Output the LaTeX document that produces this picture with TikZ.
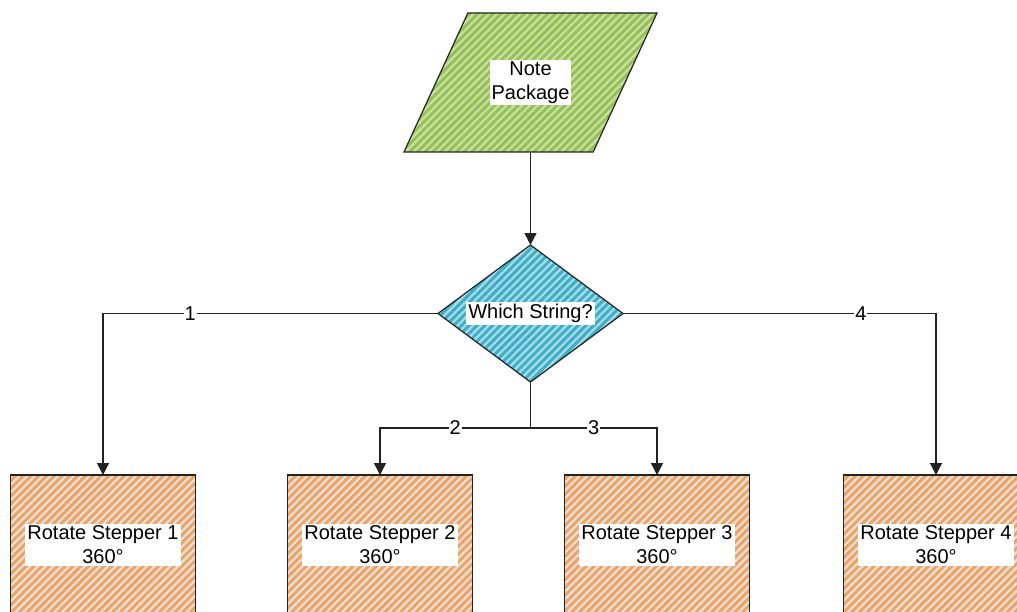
\documentclass[tikz,border=0pt]{standalone}
\usepackage{fontspec}
\setmainfont{Liberation Sans}
\usetikzlibrary{arrows.meta,positioning,shapes.geometric,patterns.meta}

\definecolor{noteGreen}{HTML}{95C253}
\definecolor{noteStripe}{HTML}{CADFA8}
\definecolor{askBlue}{HTML}{3FAFC7}
\definecolor{askStripe}{HTML}{AADDE9}
\definecolor{stepOrange}{HTML}{F5A25A}
\definecolor{stepStripe}{HTML}{DCE3EA}
\definecolor{wire}{HTML}{222222}

\begin{document}
\begin{tikzpicture}[
        x=1pt, y=-1pt,
        node distance=93pt,
        font=\fontsize{20}{24}\selectfont,
        hatch/.style 2 args={preaction={fill=#1}, pattern={Lines[angle=45,distance=5.5pt,line width=2.2pt]}, pattern color=#2},
        shapebase/.style={draw=wire, line width=1.2pt, outer sep=0pt, inner sep=2pt},
        datain/.style={shapebase, trapezium, trapezium left angle=63, trapezium right angle=117, trapezium stretches=true, minimum width=253pt, minimum height=139pt, hatch={noteGreen}{noteStripe}},
        decision/.style={shapebase, diamond, minimum width=185pt, minimum height=137pt, hatch={askBlue}{askStripe}},
        stepbox/.style={shapebase, rectangle, minimum width=185pt, minimum height=140pt, hatch={stepOrange}{stepStripe}},
        txt/.style={fill=white, inner sep=2pt, align=center},
        tag/.style={fill=white, inner sep=1pt},
        wireline/.style={draw=wire, line width=1.3pt},
        arrow/.style={wireline, -{Triangle[length=12pt,width=12pt]}},
    ]
        \path[use as bounding box] (0,0) rectangle (1017,612);
        \clip (0,0) rectangle (1017,612);

        \node[datain] (note) at (530.5,82.5) {};
        \node[decision, below=of note] (which) {};
        \node[stepbox, below=of which, xshift=-150.5pt] (step2) {};
        \node[stepbox, left=92pt of step2] (step1) {};
        \node[stepbox, right=92pt of step2] (step3) {};
        \node[stepbox, right=94pt of step3] (step4) {};

        \node[txt] (note-txt) at (note) {Note\\Package};
        \node[txt] (which-txt) at (which) {Which String?};
        \node[txt] (step1-txt) at (step1) {Rotate Stepper 1\\360°};
        \node[txt] (step2-txt) at (step2) {Rotate Stepper 2\\360°};
        \node[txt] (step3-txt) at (step3) {Rotate Stepper 3\\360°};
        \node[txt] (step4-txt) at (step4) {Rotate Stepper 4\\360°};

        \coordinate[below=46pt of which.south] (fork);

        \draw[arrow] (note) -- (which);
        \draw[arrow] (which.west) -| node[tag, pos=0.37] {1} (step1);
        \draw[arrow] (which.east) -| node[tag, pos=0.38] {4} (step4);
        \draw[wireline] (which.south) -- (fork);
        \draw[arrow] (fork) -| node[tag, pos=0.25] {2} (step2);
        \draw[arrow] (fork) -| node[tag, pos=0.25] {3} (step3);
    \end{tikzpicture}
\end{document}
